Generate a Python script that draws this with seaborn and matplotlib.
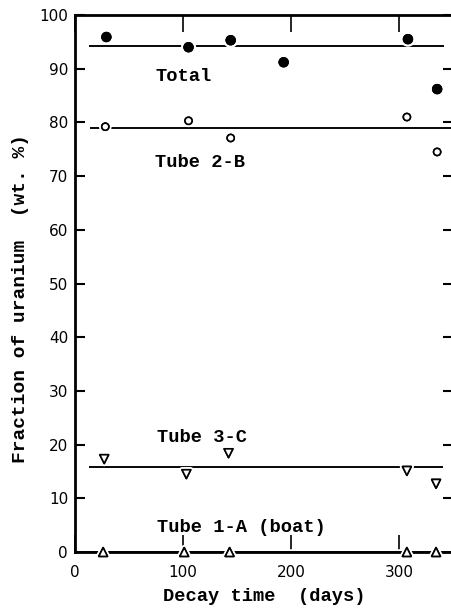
import numpy as np
import pandas as pd
import matplotlib
matplotlib.use("Agg")
import matplotlib.pyplot as plt
import matplotlib.patheffects as pe
import seaborn as sb

# DATA
days_total = [29, 105, 144, 193, 308, 335]
total = [95.9, 94.0, 95.3, 91.2, 95.5, 86.2]
days_2b = [28, 105, 144, 307, 335]
tube_2b = [79.2, 80.3, 77.1, 81.0, 74.5]
days_3c = [27, 103, 142, 307, 334]
tube_3c = [17.3, 14.5, 18.4, 15.1, 12.7]
days_1a = [26, 101, 143, 307, 334]
tube_1a = [0.0, 0.0, 0.0, 0.0, 0.0]

# average lines
avg_levels = [94.2, 79.0, 15.8, 0.0]
avg_start = [13, 14, 13, 0]
avg_end = [341, 352, 340, 352]

labels = ["Total", "Tube 2-B", "Tube 3-C", "Tube 1-A (boat)"]
label_x = [74, 74, 76, 76]
label_y = [88.6, 72.6, 21.4, 4.6]

sb.set_style("ticks")
plt.rcParams['font.family'] = ['DejaVu Sans']

fig = plt.figure(figsize=(4.52, 6.12), dpi=100)
ax = fig.add_axes([0.166, 0.098, 0.837, 0.8775])

# horizontal average lines
ax.hlines(avg_levels, avg_start, avg_end, color='black', linewidth=1.1, zorder=1)

halo = [pe.withStroke(linewidth=4, foreground='white')]

df_t = pd.DataFrame({'day': days_total, 'val': total})
sb.scatterplot(data=df_t, x='day', y='val', ax=ax, marker='o', s=48,
               color='black', edgecolor='black', zorder=3)
df_b = pd.DataFrame({'day': days_2b, 'val': tube_2b})
sb.scatterplot(data=df_b, x='day', y='val', ax=ax, marker='o', s=26,
               facecolor='white', edgecolor='black', linewidth=1.2, zorder=3)
df_c = pd.DataFrame({'day': days_3c, 'val': tube_3c})
sb.scatterplot(data=df_c, x='day', y='val', ax=ax, marker='v', s=40,
               facecolor='white', edgecolor='black', linewidth=1.2, zorder=3)
df_a = pd.DataFrame({'day': days_1a, 'val': tube_1a})
sb.scatterplot(data=df_a, x='day', y='val', ax=ax, marker='^', s=40,
               facecolor='white', edgecolor='black', linewidth=1.2, zorder=3,
               clip_on=False)
for coll in ax.collections:
    coll.set_path_effects(halo + [pe.Normal()])

mono = ['Liberation Mono', 'DejaVu Sans Mono']
for lab, lx, ly in zip(labels, label_x, label_y):
    ax.text(lx, ly, lab, family=mono, fontweight='bold', fontsize=13.5,
            ha='left', va='center', color='black')

ax.set_xlim(0, 350)
ax.set_ylim(0, 100)
ax.set_xticks([0, 100, 200, 300])
ax.set_yticks(np.arange(0, 101, 10))
ax.tick_params(axis='y', direction='in', length=7, width=1.5, labelsize=11,
               right=True, pad=5, colors='black')
ax.tick_params(axis='x', direction='in', length=12, width=1.2, labelsize=11,
               top=True, pad=9, colors='black')
for s in ax.spines.values():
    s.set_linewidth(2)
    s.set_color('black')
    s.set_visible(True)

ax.set_xlabel("Decay time  (days)", family=mono, fontweight='bold', fontsize=13.5,
              labelpad=6, color='black')
ax.set_ylabel("Fraction of uranium  (wt. %)", family=mono, fontweight='bold',
              fontsize=14, color='black')
ax.yaxis.label.set_verticalalignment('center')
ax.yaxis.set_label_coords(-0.145, 0.473)

fig.savefig("out.png", dpi=100)
